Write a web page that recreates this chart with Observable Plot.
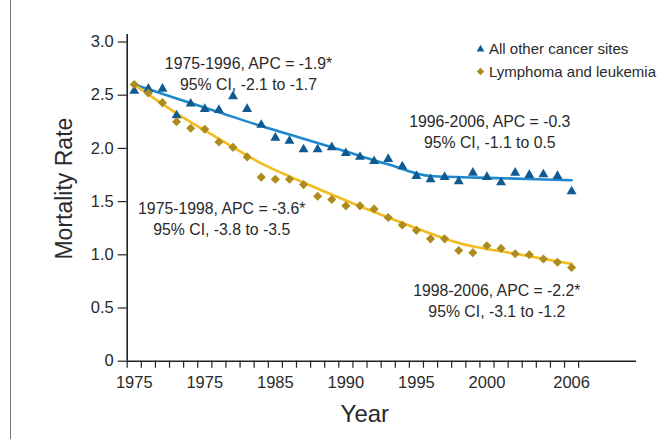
<!DOCTYPE html>
<html>
<head>
<meta charset="utf-8">
<script src="https://cdn.jsdelivr.net/npm/d3@7"></script>
<script src="https://cdn.jsdelivr.net/npm/@observablehq/plot@0.6"></script>
<style>
  html, body { margin: 0; padding: 0; background: #fff; }
  #wrap { position: relative; width: 669px; height: 439px; overflow: hidden; font-family: "Liberation Sans", Arial, sans-serif; }
  #border { position: absolute; left: 10px; top: 0; width: 0; height: 439px; border-left: 1.5px solid #777; }
  #legend { position: absolute; left: 475px; top: 37px; font-size: 15px; color: #2a2a2a; line-height: 23px; }
  #legend div { display: flex; align-items: center; white-space: nowrap; }
  #legend svg { margin-right: 3px; }
</style>
</head>
<body>
<div id="wrap">
  <div id="chart"></div>
  <div id="border"></div>
  <div id="legend"></div>
</div>
<script>
const years = [1975,1976,1977,1978,1979,1980,1981,1982,1983,1984,1985,1986,1987,1988,1989,1990,
               1991,1992,1993,1994,1995,1996,1997,1998,1999,2000,2001,2002,2003,2004,2005,2006];
const otherSites = [2.54,2.56,2.56,2.31,2.42,2.37,2.36,2.49,2.37,2.22,2.10,2.07,1.99,1.99,2.01,1.955,
                    1.92,1.88,1.90,1.83,1.74,1.71,1.73,1.69,1.77,1.73,1.68,1.77,1.75,1.755,1.74,1.595];
const lymphoma = [2.60,2.52,2.43,2.25,2.19,2.18,2.06,2.01,1.92,1.73,1.71,1.71,1.66,1.55,1.52,1.46,
                  1.46,1.43,1.35,1.28,1.23,1.15,1.15,1.04,1.02,1.085,1.06,1.01,1.00,0.96,0.93,0.88];

// fitted joinpoint curves
const otherFitYears = [1975,1978,1981,1984,1987,1990,1993,1996,2001,2006];
const otherFitValues = [2.60,2.47,2.34,2.21,2.09,1.97,1.85,1.74,1.72,1.70];
const lymphFitYears = [1975,1978,1981,1984,1987,1990,1993,1996,1998,2002,2006];
const lymphFitValues = [2.60,2.33,2.09,1.86,1.68,1.51,1.35,1.20,1.11,1.01,0.915];

const seriesNames = ["All other cancer sites", "Lymphoma and leukemia"];

const yTicks = [0, 0.5, 1.0, 1.5, 2.0, 2.5, 3.0];
const yTickLabels = ["0", "0.5", "1.0", "1.5", "2.0", "2.5", "3.0"];
const xTickYears = [1975, 1980, 1985, 1990, 1995, 2000, 2006];
const xTickLabels = ["1975", "1975", "1985", "1990", "1995", "2000", "2006"];
const xMinorTicks = [1974.5,1975.5,1976.5,1977.5,1978.5,1979.5,1980.5,1981.5,1982.5,1983.5,1984.5,
                     1985.5,1986.5,1987.5,1988.5,1989.5,1990.5,1991.5,1992.5,1993.5,1994.5,1995.5,
                     1996.5,1997.5,1998.5,1999.5,2000.5,2001.5,2002.5,2003.5,2004.5,2005.5,2006.5];

const annoText = ["1975-1996, APC = -1.9*\n95% CI, -2.1 to -1.7",
                  "1996-2006, APC = -0.3\n95% CI, -1.1 to 0.5",
                  "1975-1998, APC = -3.6*\n95% CI, -3.8 to -3.5",
                  "1998-2006, APC = -2.2*\n95% CI, -3.1 to -1.2"];
const annoYear = [1983.1, 2000.2, 1981.2, 2000.7];
const annoValue = [2.71, 2.165, 1.346, 0.575];

const colBlueDot = "#0f5a93", colBlueLine = "#1e88cc";
const colGoldDot = "#ad8b1c", colGoldLine = "#f2bb1e";

const otherPts = years.map((y, i) => ({year: y, v: otherSites[i]}));
const lymphPts = years.map((y, i) => ({year: y, v: lymphoma[i]}));
const otherFit = otherFitYears.map((y, i) => ({year: y, v: otherFitValues[i]}));
const lymphFit = lymphFitYears.map((y, i) => ({year: y, v: lymphFitValues[i]}));
const annos = annoText.map((t, i) => ({t, x: annoYear[i], y: annoValue[i]}));
const yLabs = yTicks.map((t, i) => ({v: t, label: yTickLabels[i]}));
const xLabs = xTickYears.map((t, i) => ({year: t, label: xTickLabels[i]}));

const chart = Plot.plot({
  width: 669, height: 439,
  marginLeft: 126.7, marginRight: 33, marginTop: 41.5, marginBottom: 78.3,
  style: {fontFamily: "'Liberation Sans', Arial, sans-serif", fontSize: "16px", color: "#2a2a2a", background: "transparent"},
  x: {domain: [1974.5, 2010.6]},
  y: {domain: [0, 3]},
  marks: [
    Plot.axisY(yTicks, {tickSize: 9, tickFormat: () => "", stroke: "#222", strokeWidth: 1.2, label: null}),
    Plot.axisX(xMinorTicks, {tickSize: 7, tickFormat: () => "", stroke: "#222", strokeWidth: 1.2, label: null}),
    Plot.text(yLabs, {y: "v", text: "label", frameAnchor: "left", dx: -13.4, textAnchor: "end", lineAnchor: "middle", fontSize: 16.5, fill: "#2a2a2a"}),
    Plot.text(xLabs, {x: "year", text: "label", frameAnchor: "bottom", dy: 22, textAnchor: "middle", lineAnchor: "middle", fontSize: 16.5, fill: "#2a2a2a"}),
    Plot.ruleY([0], {x1: 1974.5, x2: 2010.6, stroke: "#222", strokeWidth: 1.6}),
    Plot.ruleX([1974.5], {y1: 0, y2: 3.07, stroke: "#222", strokeWidth: 1.6}),
    Plot.line(otherFit, {x: "year", y: "v", stroke: colBlueLine, strokeWidth: 2.6, curve: "monotone-x"}),
    Plot.line(lymphFit, {x: "year", y: "v", stroke: colGoldLine, strokeWidth: 2.6, curve: "monotone-x"}),
    Plot.dot(otherPts, {x: "year", y: "v", symbol: "triangle", r: 3.7, fill: colBlueDot, stroke: null}),
    Plot.dot(lymphPts, {x: "year", y: "v", symbol: "diamond2", r: 4.1, fill: colGoldDot, stroke: null}),
    Plot.text(annos, {x: "x", y: "y", text: "t", fontSize: 15.8, lineHeight: 1.3, textAnchor: "middle", lineAnchor: "middle", fill: "#2a2a2a"}),
    Plot.text(["Mortality Rate"], {frameAnchor: "left", dx: -63, dy: -13, rotate: -90, fontSize: 23, fill: "#2a2a2a", textAnchor: "middle", lineAnchor: "middle", fontFamily: "'Liberation Sans Narrow', 'Arial Narrow', 'Liberation Sans', sans-serif"}),
    Plot.text(["Year"], {frameAnchor: "bottom", dx: -17, dy: 53, fontSize: 24, fill: "#2a2a2a", textAnchor: "middle", lineAnchor: "middle", fontFamily: "'Liberation Sans Narrow', 'Arial Narrow', 'Liberation Sans', sans-serif"})
  ]
});
document.getElementById("chart").appendChild(chart);

// legend
const legend = document.getElementById("legend");
const symbols = [
  `<svg width="11" height="11" viewBox="-5.5 -5.5 11 11"><path d="${d3.symbol(d3.symbolTriangle, 26)()}" transform="translate(0,0.8)" fill="${colBlueDot}"/></svg>`,
  `<svg width="11" height="11" viewBox="-5.5 -5.5 11 11"><path d="${d3.symbol(d3.symbolDiamond2, 34)()}" fill="${colGoldDot}"/></svg>`
];
seriesNames.forEach((n, i) => {
  const row = document.createElement("div");
  row.innerHTML = symbols[i] + `<span>${n}</span>`;
  legend.appendChild(row);
});
</script>
</body>
</html>
